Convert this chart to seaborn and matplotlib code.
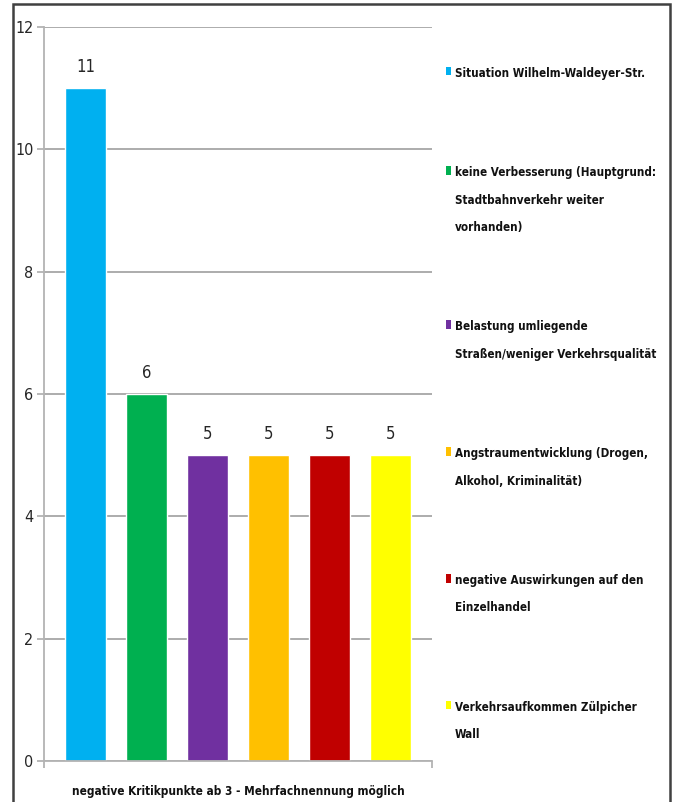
import matplotlib
matplotlib.use("Agg")
import matplotlib.pyplot as plt
import seaborn as sns
import pandas as pd
from matplotlib.patches import Patch, Rectangle

# data ---------------------------------------------------------------------
categories = [
    "Situation Wilhelm-Waldeyer-Str.",
    "keine Verbesserung (Hauptgrund:\nStadtbahnverkehr weiter\nvorhanden)",
    "Belastung umliegende\nStraßen/weniger Verkehrsqualität",
    "Angstraumentwicklung (Drogen,\nAlkohol, Kriminalität)",
    "negative Auswirkungen auf den\nEinzelhandel",
    "Verkehrsaufkommen Zülpicher\nWall",
]
counts = [11, 6, 5, 5, 5, 5]
colors = ["#00B0F0", "#00B050", "#7030A0", "#FFC000", "#C00000", "#FFFF00"]
x_title = "negative Kritikpunkte ab 3 - Mehrfachnennung möglich"

sns.set_theme(style="white")
plt.rcParams["font.family"] = ["DejaVu Sans"]
plt.rcParams["font.stretch"] = "condensed"

df = pd.DataFrame({"cat": categories, "n": counts})

fig = plt.figure(figsize=(6.76, 8.02), dpi=100)
ax = fig.add_axes([44 / 676, 41 / 802, 388 / 676, 734 / 802])

sns.barplot(data=df, x="cat", y="n", hue="cat", order=categories,
            hue_order=categories, palette=colors, width=0.66,
            saturation=1, legend=False, ax=ax)

ax.set_xlim(-0.68, 5.68)
ax.set_ylim(0, 12)
ax.set_yticks(range(0, 13, 2))
ax.yaxis.grid(True, color="#a6a6a6", linewidth=1.3)
ax.set_axisbelow(True)

for c in ax.containers:
    ax.bar_label(c, padding=9, fontsize=12, color="#262626")

for s in ["top", "right"]:
    ax.spines[s].set_visible(False)
for s in ["left", "bottom"]:
    ax.spines[s].set_color("#b3b3b3")
    ax.spines[s].set_linewidth(1.3)

ax.set_xticks([-0.68, 5.68])
ax.set_xticklabels([])
ax.tick_params(axis="x", bottom=True, length=5, width=1.3, color="#b3b3b3")
ax.tick_params(axis="y", left=True, length=5, width=1.3, color="#b3b3b3",
               labelsize=11.5, pad=2.5, labelcolor="#262626")
ax.set_xlabel(x_title, fontsize=8.5, fontweight="bold", labelpad=9, color="#111111")
ax.set_ylabel("")

handles = [Patch(facecolor=col, edgecolor="none") for col in colors]
leg = fig.legend(handles, categories, loc="upper left",
                 bbox_to_anchor=(441 / 676, 1 - 62 / 802),
                 frameon=False, prop={"weight": "bold", "size": 8.4},
                 handlelength=0.5, handleheight=0.75, handletextpad=0.3,
                 labelspacing=7.4, borderaxespad=0)
for t in leg.get_texts():
    t.set_linespacing(2.45)
    t.set_color("#111111")
# marker next to the first line of each entry, like the original
for col in leg._legend_handle_box.get_children():
    for item in col.get_children():
        item.align = "top"

# outer frame
fig.patches.append(Rectangle((13 / 676, -0.05), 657 / 676, 1.05 - 4 / 802,
                             transform=fig.transFigure, fill=False,
                             edgecolor="#404040", linewidth=1.8))

fig.savefig("out.png", dpi=100)
